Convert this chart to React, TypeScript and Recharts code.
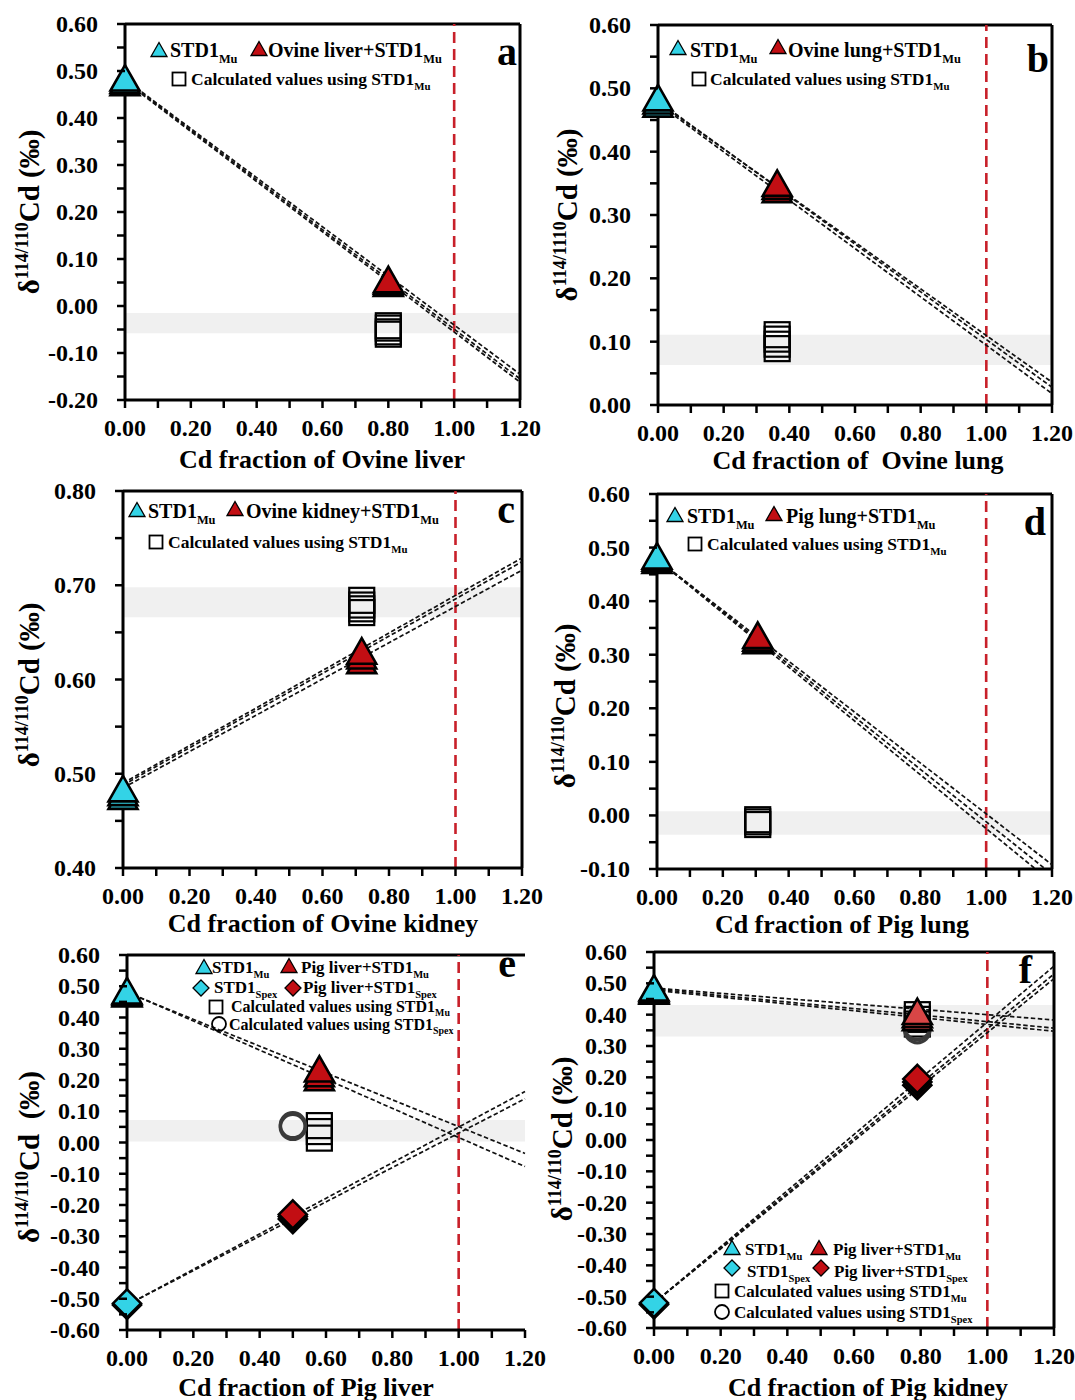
import React from "react";
import {
  ComposedChart,
  Line,
  ReferenceArea,
  ReferenceLine,
  Scatter,
  XAxis,
  YAxis,
} from "recharts";

const FONT = '"Liberation Serif", "Times New Roman", serif';
const CYAN = "#33d3e6";
const RED = "#c20e13";
const BAND = "#f0f0f0";
const VLINE = "#c8202a";

// shared x axis (Cd fraction), minor ticks every 0.1, labels every 0.2
const xTicks = [0, 0.1, 0.2, 0.3, 0.4, 0.5, 0.6, 0.7, 0.8, 0.9, 1.0, 1.1, 1.2];

// y ticks per panel (minor every 0.05, labels every 0.1)
const yTicksA = [-0.2, -0.15, -0.1, -0.05, 0, 0.05, 0.1, 0.15, 0.2, 0.25, 0.3, 0.35, 0.4, 0.45, 0.5, 0.55, 0.6];
const yTicksB = [0, 0.05, 0.1, 0.15, 0.2, 0.25, 0.3, 0.35, 0.4, 0.45, 0.5, 0.55, 0.6];
const yTicksC = [0.4, 0.45, 0.5, 0.55, 0.6, 0.65, 0.7, 0.75, 0.8];
const yTicksD = [-0.1, -0.05, 0, 0.05, 0.1, 0.15, 0.2, 0.25, 0.3, 0.35, 0.4, 0.45, 0.5, 0.55, 0.6];
const yTicksEF = [-0.6, -0.55, -0.5, -0.45, -0.4, -0.35, -0.3, -0.25, -0.2, -0.15, -0.1, -0.05, 0, 0.05, 0.1, 0.15, 0.2, 0.25, 0.3, 0.35, 0.4, 0.45, 0.5, 0.55, 0.6];

// panel a – Ovine liver
const aStdMu = [[0, 0.475], [0, 0.48], [0, 0.485]];
const aMixMu = [[0.8, 0.048], [0.8, 0.052], [0.8, 0.056]];
const aCalcMu = [[0.8, -0.042], [0.8, -0.047], [0.8, -0.055], [0.8, -0.06]];
const aLines = [[0, 0.482, 1.2, -0.145], [0, 0.48, 1.2, -0.155], [0, 0.478, 1.2, -0.162]];
const aBand = [-0.058, -0.015];

// panel b – Ovine lung
const bStdMu = [[0, 0.475], [0, 0.48], [0, 0.485]];
const bMixMu = [[0.363, 0.34], [0.363, 0.345], [0.363, 0.35]];
const bCalcMu = [[0.363, 0.111], [0.363, 0.104], [0.363, 0.096], [0.363, 0.089]];
const bLines = [[0, 0.478, 1.2, 0.036], [0, 0.48, 1.2, 0.028], [0, 0.476, 1.2, 0.018]];
const bBand = [0.063, 0.111];

// panel c – Ovine kidney
const cStdMu = [[0, 0.476], [0, 0.48], [0, 0.484]];
const cMixMu = [[0.718, 0.62], [0.718, 0.625], [0.718, 0.63]];
const cCalcMu = [[0.718, 0.684], [0.718, 0.679], [0.718, 0.675], [0.718, 0.671]];
const cLines = [[0, 0.49, 1.2, 0.729], [0, 0.488, 1.2, 0.725], [0, 0.485, 1.2, 0.716]];
const cBand = [0.666, 0.698];

// panel d – Pig lung
const dStdMu = [[0, 0.476], [0, 0.48], [0, 0.484]];
const dMixMu = [[0.306, 0.326], [0.306, 0.331], [0.306, 0.336]];
const dCalcMu = [[0.306, -0.008], [0.306, -0.012], [0.306, -0.017]];
const dLines = [[0, 0.478, 1.2, -0.092], [0, 0.478, 1.18, -0.1], [0, 0.478, 1.15, -0.1]];
const dBand = [-0.036, 0.008];

// panel e – Pig liver
const eStdMu = [[0, 0.475], [0, 0.48], [0, 0.485]];
const eMixMu = [[0.58, 0.207], [0.58, 0.22], [0.58, 0.235]];
const eStdSpex = [[0, -0.52], [0, -0.515]];
const eMixSpex = [[0.5, -0.245], [0.5, -0.237], [0.5, -0.23]];
const eCalcMu = [[0.58, 0.054], [0.58, 0.035], [0.58, 0.014]];
const eCalcSpex = [[0.5, 0.05], [0.5, 0.055]];
const eLinesMu = [[0, 0.48, 1.2, -0.035], [0, 0.482, 1.2, -0.077]];
const eLinesSpex = [[0, -0.52, 1.2, 0.163], [0, -0.52, 1.2, 0.14]];
const eBand = [0.003, 0.072];

// panel f – Pig kidney
const fStdMu = [[0, 0.475], [0, 0.48], [0, 0.485]];
const fMixMu = [[0.79, 0.39], [0.79, 0.4], [0.79, 0.41]];
const fStdSpex = [[0, -0.525], [0, -0.52]];
const fMixSpex = [[0.79, 0.175], [0.79, 0.185], [0.79, 0.195]];
const fCalcMu = [[0.79, 0.4], [0.79, 0.385], [0.79, 0.37]];
const fCalcSpex = [[0.79, 0.35], [0.79, 0.36]];
const fLinesMu = [[0, 0.485, 1.2, 0.383], [0, 0.482, 1.2, 0.357], [0, 0.478, 1.2, 0.347]];
const fLinesSpex = [[0, -0.52, 1.2, 0.555], [0, -0.52, 1.2, 0.53], [0, -0.52, 1.2, 0.515]];
const fBand = [0.33, 0.431];

const toPts = (arr: number[][]) => arr.map(([x, y]) => ({ x, y }));
const toSeg = (s: number[]) => [
  { x: s[0], y: s[1] },
  { x: s[2], y: s[3] },
];

type Kind = "tri" | "dia" | "sq" | "circ";

function bigMarker(kind: Kind, fill: string) {
  return (p: any) => {
    const { cx, cy } = p;
    if (cx == null || cy == null) return <g />;
    if (kind === "tri")
      return (
        <polygon
          points={`${cx},${cy - 13} ${cx + 14.5},${cy + 12.5} ${cx - 14.5},${cy + 12.5}`}
          fill={fill}
          stroke="#000"
          strokeWidth={2.6}
        />
      );
    if (kind === "dia")
      return (
        <polygon
          points={`${cx},${cy - 14} ${cx + 14},${cy} ${cx},${cy + 14} ${cx - 14},${cy}`}
          fill={fill}
          stroke="#000"
          strokeWidth={2.6}
        />
      );
    if (kind === "sq")
      return (
        <rect x={cx - 12.5} y={cy - 12.5} width={25} height={25} fill="none" stroke="#000" strokeWidth={2.2} />
      );
    return <circle cx={cx} cy={cy} r={12.5} fill="none" stroke="#3a3a3a" strokeWidth={3.4} />;
  };
}

function smallIcon(kind: Kind, x: number, y: number, fill: string, key: string) {
  if (kind === "tri")
    return (
      <polygon key={key} points={`${x},${y - 7.5} ${x + 8},${y + 6.5} ${x - 8},${y + 6.5}`} fill={fill} stroke="#000" strokeWidth={1.3} />
    );
  if (kind === "dia")
    return (
      <polygon key={key} points={`${x},${y - 8} ${x + 8},${y} ${x},${y + 8} ${x - 8},${y}`} fill={fill} stroke="#000" strokeWidth={1.3} />
    );
  if (kind === "sq")
    return <rect key={key} x={x - 6.5} y={y - 6.5} width={13} height={13} fill="#fff" stroke="#000" strokeWidth={1.8} />;
  return <circle key={key} cx={x} cy={y} r={7} fill="none" stroke="#000" strokeWidth={1.8} />;
}

function YTick(p: any) {
  const { x, y, payload } = p;
  const v = payload.value as number;
  const major = Math.abs(Math.round(v * 100)) % 10 === 0;
  return (
    <g>
      <line x1={x - 8} x2={x} y1={y} y2={y} stroke="#000" strokeWidth={2.5} />
      {major && (
        <text x={x - 27} y={y + 8} textAnchor="end" fontFamily={FONT} fontWeight="bold" fontSize={24} fill="#000">
          {v.toFixed(2)}
        </text>
      )}
    </g>
  );
}

function XTick(p: any) {
  const { x, y, payload } = p;
  const v = payload.value as number;
  const major = Math.round(v * 10) % 2 === 0;
  return (
    <g>
      <line x1={x} x2={x} y1={y} y2={y + 8} stroke="#000" strokeWidth={2.5} />
      {major && (
        <text x={x} y={y + 36} textAnchor="middle" fontFamily={FONT} fontWeight="bold" fontSize={24} fill="#000">
          {v.toFixed(2)}
        </text>
      )}
    </g>
  );
}

type SeriesDef = { pts: number[][]; kind: Kind; fill: string };
type LegendItem = { kind: Kind; fill: string; ix: number; iy: number; text: string; sub: string; tx: number; ty: number; fs: number };
type PanelDef = {
  L: number; R: number; T: number; B: number;
  yDomain: number[]; yTicks: number[]; band: number[];
  lines: number[][]; series: SeriesDef[]; rightBorder: boolean;
  letter: string; letterX: number; letterY: number;
  xTitle: string; xTitleX: number; xTitleY: number;
  ySup: string; yTail: string; yTitleX: number; yTitleY: number;
  legend: LegendItem[];
};

const panels: PanelDef[] = [
  {
    L: 125, R: 520, T: 24, B: 400, yDomain: [-0.2, 0.6], yTicks: yTicksA, band: aBand,
    lines: aLines,
    series: [
      { pts: aCalcMu, kind: "sq", fill: "none" },
      { pts: aStdMu, kind: "tri", fill: CYAN },
      { pts: aMixMu, kind: "tri", fill: RED },
    ],
    rightBorder: true, letter: "a", letterX: 517, letterY: 65,
    xTitle: "Cd fraction of Ovine liver", xTitleX: 322, xTitleY: 468,
    ySup: "114/110", yTail: "Cd (‰)", yTitleX: 39, yTitleY: 212,
    legend: [
      { kind: "tri", fill: CYAN, ix: 159, iy: 50, text: "STD1", sub: "Mu", tx: 170, ty: 57, fs: 20 },
      { kind: "tri", fill: RED, ix: 259, iy: 49, text: "Ovine liver+STD1", sub: "Mu", tx: 268, ty: 57, fs: 20 },
      { kind: "sq", fill: "#fff", ix: 179, iy: 79, text: "Calculated values using STD1", sub: "Mu", tx: 191, ty: 85, fs: 17.5 },
    ],
  },
  {
    L: 658, R: 1052, T: 25, B: 405, yDomain: [0, 0.6], yTicks: yTicksB, band: bBand,
    lines: bLines,
    series: [
      { pts: bCalcMu, kind: "sq", fill: "none" },
      { pts: bStdMu, kind: "tri", fill: CYAN },
      { pts: bMixMu, kind: "tri", fill: RED },
    ],
    rightBorder: true, letter: "b", letterX: 1049, letterY: 72,
    xTitle: "Cd fraction of  Ovine lung", xTitleX: 858, xTitleY: 469,
    ySup: "114/1110", yTail: "Cd (‰)", yTitleX: 577, yTitleY: 215,
    legend: [
      { kind: "tri", fill: CYAN, ix: 678, iy: 48, text: "STD1", sub: "Mu", tx: 690, ty: 57, fs: 20 },
      { kind: "tri", fill: RED, ix: 778, iy: 47, text: "Ovine lung+STD1", sub: "Mu", tx: 788, ty: 57, fs: 20 },
      { kind: "sq", fill: "#fff", ix: 699, iy: 79, text: "Calculated values using STD1", sub: "Mu", tx: 710, ty: 85, fs: 17.5 },
    ],
  },
  {
    L: 123, R: 522, T: 491, B: 868, yDomain: [0.4, 0.8], yTicks: yTicksC, band: cBand,
    lines: cLines,
    series: [
      { pts: cCalcMu, kind: "sq", fill: "none" },
      { pts: cStdMu, kind: "tri", fill: CYAN },
      { pts: cMixMu, kind: "tri", fill: RED },
    ],
    rightBorder: true, letter: "c", letterX: 515, letterY: 523,
    xTitle: "Cd fraction of Ovine kidney", xTitleX: 323, xTitleY: 932,
    ySup: "114/110", yTail: "Cd (‰)", yTitleX: 39, yTitleY: 685,
    legend: [
      { kind: "tri", fill: CYAN, ix: 137, iy: 510, text: "STD1", sub: "Mu", tx: 148, ty: 518, fs: 20 },
      { kind: "tri", fill: RED, ix: 235, iy: 509, text: "Ovine kidney+STD1", sub: "Mu", tx: 246, ty: 518, fs: 20 },
      { kind: "sq", fill: "#fff", ix: 156, iy: 542, text: "Calculated values using STD1", sub: "Mu", tx: 168, ty: 548, fs: 17.5 },
    ],
  },
  {
    L: 657, R: 1052, T: 494, B: 869, yDomain: [-0.1, 0.6], yTicks: yTicksD, band: dBand,
    lines: dLines,
    series: [
      { pts: dCalcMu, kind: "sq", fill: "none" },
      { pts: dStdMu, kind: "tri", fill: CYAN },
      { pts: dMixMu, kind: "tri", fill: RED },
    ],
    rightBorder: true, letter: "d", letterX: 1046, letterY: 535,
    xTitle: "Cd fraction of Pig lung", xTitleX: 842, xTitleY: 933,
    ySup: "114/110", yTail: "Cd (‰)", yTitleX: 575, yTitleY: 706,
    legend: [
      { kind: "tri", fill: CYAN, ix: 675, iy: 515, text: "STD1", sub: "Mu", tx: 687, ty: 523, fs: 20 },
      { kind: "tri", fill: RED, ix: 774, iy: 514, text: "Pig lung+STD1", sub: "Mu", tx: 786, ty: 523, fs: 20 },
      { kind: "sq", fill: "#fff", ix: 695, iy: 544, text: "Calculated values using STD1", sub: "Mu", tx: 707, ty: 550, fs: 17.5 },
    ],
  },
  {
    L: 127, R: 525, T: 955, B: 1330, yDomain: [-0.6, 0.6], yTicks: yTicksEF, band: eBand,
    lines: [...eLinesMu, ...eLinesSpex],
    series: [
      { pts: eCalcMu, kind: "sq", fill: "none" },
      { pts: eCalcSpex, kind: "circ", fill: "none" },
      { pts: eStdMu, kind: "tri", fill: CYAN },
      { pts: eMixMu, kind: "tri", fill: RED },
      { pts: eStdSpex, kind: "dia", fill: CYAN },
      { pts: eMixSpex, kind: "dia", fill: RED },
    ],
    rightBorder: false, letter: "e", letterX: 516, letterY: 977,
    xTitle: "Cd fraction of Pig liver", xTitleX: 306, xTitleY: 1396,
    ySup: "114/110", yTail: "Cd  (‰)", yTitleX: 39, yTitleY: 1157,
    legend: [
      { kind: "tri", fill: CYAN, ix: 204, iy: 967, text: "STD1", sub: "Mu", tx: 212, ty: 973, fs: 17 },
      { kind: "tri", fill: RED, ix: 289, iy: 966, text: "Pig liver+STD1", sub: "Mu", tx: 301, ty: 973, fs: 17 },
      { kind: "dia", fill: CYAN, ix: 201, iy: 988, text: "STD1", sub: "Spex", tx: 214, ty: 993, fs: 17 },
      { kind: "dia", fill: RED, ix: 293, iy: 988, text: "Pig liver+STD1", sub: "Spex", tx: 303, ty: 993, fs: 17 },
      { kind: "sq", fill: "#fff", ix: 216, iy: 1007, text: "Calculated values using STD1", sub: "Mu", tx: 231, ty: 1012, fs: 16 },
      { kind: "circ", fill: "none", ix: 219, iy: 1024, text: "Calculated values using STD1", sub: "Spex", tx: 229, ty: 1030, fs: 16 },
    ],
  },
  {
    L: 654, R: 1054, T: 952, B: 1328, yDomain: [-0.6, 0.6], yTicks: yTicksEF, band: fBand,
    lines: [...fLinesMu, ...fLinesSpex],
    series: [
      { pts: fCalcMu, kind: "sq", fill: "none" },
      { pts: fCalcSpex, kind: "circ", fill: "none" },
      { pts: fMixMu, kind: "tri", fill: "#d84646" },
      { pts: fStdMu, kind: "tri", fill: CYAN },
      { pts: fStdSpex, kind: "dia", fill: CYAN },
      { pts: fMixSpex, kind: "dia", fill: RED },
    ],
    rightBorder: true, letter: "f", letterX: 1032, letterY: 983,
    xTitle: "Cd fraction of Pig kidney", xTitleX: 868, xTitleY: 1396,
    ySup: "114/110", yTail: "Cd (‰)", yTitleX: 572, yTitleY: 1139,
    legend: [
      { kind: "tri", fill: CYAN, ix: 732, iy: 1248, text: "STD1", sub: "Mu", tx: 745, ty: 1255, fs: 17 },
      { kind: "tri", fill: RED, ix: 819, iy: 1248, text: "Pig liver+STD1", sub: "Mu", tx: 833, ty: 1255, fs: 17 },
      { kind: "dia", fill: CYAN, ix: 732, iy: 1268, text: "STD1", sub: "Spex", tx: 747, ty: 1277, fs: 17 },
      { kind: "dia", fill: RED, ix: 821, iy: 1268, text: "Pig liver+STD1", sub: "Spex", tx: 834, ty: 1277, fs: 17 },
      { kind: "sq", fill: "#fff", ix: 722, iy: 1291, text: "Calculated values using STD1", sub: "Mu", tx: 734, ty: 1297, fs: 17 },
      { kind: "circ", fill: "none", ix: 722, iy: 1312, text: "Calculated values using STD1", sub: "Spex", tx: 734, ty: 1318, fs: 17 },
    ],
  },
];

const YW = 110;
const MT = 14;
const MR = 32;
const XH = 50;

function Panel({ d }: { d: PanelDef }) {
  const w = YW + (d.R - d.L) + MR;
  const h = MT + (d.B - d.T) + XH;
  const [y0, y1] = d.yDomain;
  return (
    <div style={{ position: "absolute", left: d.L - YW, top: d.T - MT }}>
      <ComposedChart width={w} height={h} margin={{ top: MT, right: MR, bottom: 0, left: 0 }}>
        <XAxis
          type="number"
          dataKey="x"
          domain={[0, 1.2]}
          ticks={xTicks}
          interval={0}
          tick={(p: any) => <XTick {...p} />}
          tickLine={false}
          tickSize={0}
          tickMargin={0}
          height={XH}
          axisLine={{ stroke: "#000", strokeWidth: 3 }}
        />
        <YAxis
          type="number"
          dataKey="y"
          domain={[y0, y1]}
          ticks={d.yTicks}
          interval={0}
          tick={(p: any) => <YTick {...p} />}
          tickLine={false}
          tickSize={0}
          tickMargin={0}
          width={YW}
          axisLine={{ stroke: "#000", strokeWidth: 3 }}
        />
        <ReferenceArea x1={0} x2={1.2} y1={d.band[0]} y2={d.band[1]} fill={BAND} fillOpacity={1} stroke="none" />
        <ReferenceLine y={y1} stroke="#000" strokeWidth={3} />
        {d.rightBorder && <ReferenceLine x={1.2} stroke="#000" strokeWidth={3} />}
        <ReferenceLine x={1} stroke={VLINE} strokeWidth={2.6} strokeDasharray="11 6" />
        {d.lines.map((s, i) => (
          <Line
            key={"l" + i}
            data={toSeg(s)}
            dataKey="y"
            type="linear"
            stroke="#111"
            strokeWidth={1.7}
            strokeDasharray="4.5 2.5"
            dot={false}
            activeDot={false}
            isAnimationActive={false}
            legendType="none"
          />
        ))}
        {d.series.map((s, i) => (
          <Scatter
            key={"s" + i}
            data={toPts(s.pts)}
            dataKey="y"
            shape={bigMarker(s.kind, s.fill)}
            isAnimationActive={false}
            legendType="none"
          />
        ))}
      </ComposedChart>
    </div>
  );
}

function Overlay() {
  return (
    <svg
      width={1075}
      height={1400}
      style={{ position: "absolute", left: 0, top: 0, pointerEvents: "none", zIndex: 2 }}
      fontFamily={FONT}
      fontWeight="bold"
    >
      {panels.map((d, pi) => (
        <g key={pi}>
          <text x={d.letterX} y={d.letterY} textAnchor="end" fontSize={40}>
            {d.letter}
          </text>
          <text x={d.xTitleX} y={d.xTitleY} textAnchor="middle" fontSize={26} style={{ whiteSpace: "pre" }}>
            {d.xTitle}
          </text>
          <text
            x={d.yTitleX}
            y={d.yTitleY}
            textAnchor="middle"
            fontSize={29}
            transform={`rotate(-90 ${d.yTitleX} ${d.yTitleY})`}
            style={{ whiteSpace: "pre" }}
          >
            δ
            <tspan fontSize={18} dy={-11}>
              {d.ySup}
            </tspan>
            <tspan dy={11}>{d.yTail}</tspan>
          </text>
          {d.legend.map((it, li) => (
            <g key={li}>
              {smallIcon(it.kind, it.ix, it.iy, it.fill, "i" + li)}
              <text x={it.tx} y={it.ty} fontSize={it.fs}>
                {it.text}
                <tspan fontSize={it.fs * 0.62} dy={it.fs * 0.28}>
                  {it.sub}
                </tspan>
              </text>
            </g>
          ))}
        </g>
      ))}
    </svg>
  );
}

export default function App() {
  return (
    <div style={{ position: "absolute", left: 0, top: 0, width: 1075, height: 1400, background: "#fff", overflow: "hidden" }}>
      {panels.map((d, i) => (
        <Panel key={i} d={d} />
      ))}
      <Overlay />
    </div>
  );
}
